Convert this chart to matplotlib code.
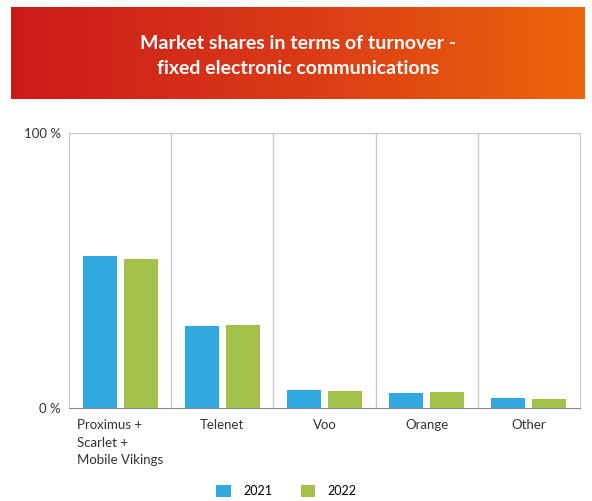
import matplotlib.pyplot as plt
import numpy as np
from matplotlib.colors import LinearSegmentedColormap

# données
categories = ["Proximus +\nScarlet +\nMobile Vikings", "Telenet", "Voo", "Orange", "Other"]
years = ["2021", "2022"]
share_2021 = [55.3, 29.8, 6.4, 5.3, 3.5]
share_2022 = [54.2, 30.3, 6.3, 5.9, 3.3]
colors = ["#31A8E0", "#A3C04A"]
title = "Market shares in terms of turnover -\nfixed electronic communications"

plt.rcParams["font.family"] = ["Lato", "DejaVu Sans"]

fig = plt.figure(figsize=(5.92, 5.01), dpi=100)
W, H = 592, 501

# bandeau titre en dégradé
ax_t = fig.add_axes([11 / W, 1 - 99 / H, 574 / W, 92 / H])
grad = np.linspace(0, 1, 256).reshape(1, -1)
cmap = LinearSegmentedColormap.from_list("banner", ["#CB1A1B", "#DA3A17", "#EC650A"])
ax_t.imshow(grad, aspect="auto", cmap=cmap, extent=[0, 1, 0, 1])
ax_t.set_xlim(0, 1)
ax_t.set_ylim(0, 1)
ax_t.axis("off")
ax_t.text(0.5, 0.47, title, ha="center", va="center", color="white",
          fontsize=14, fontweight="bold", linespacing=1.55)

# graphique
ax = fig.add_axes([69 / W, 1 - 408 / H, 511 / W, 275 / H])
x = np.arange(len(categories))
w = 0.333
ax.bar(x - 0.2, share_2021, w, color=colors[0], label=years[0], zorder=3)
ax.bar(x + 0.2, share_2022, w, color=colors[1], label=years[1], zorder=3)

ax.set_xlim(-0.5, len(categories) - 0.5)
ax.set_ylim(0, 100)
ax.set_yticks([0, 100])
ax.set_yticklabels(["0 %", "100 %"], fontsize=9.5, color="#333333")
ax.set_xticks(x)
ax.set_xticklabels(categories, fontsize=9.5, color="#333333", va="top",
                   multialignment="left", linespacing=1.55)
ax.tick_params(axis="both", length=0, pad=6)
ax.tick_params(axis="x", pad=8)

for b in np.arange(0.5, len(categories) - 0.5, 1):
    ax.axvline(b, color="#C8C8C8", lw=1, zorder=1)
ax.axhline(100, color="#C8C8C8", lw=1, zorder=1)

ax.spines["top"].set_visible(False)
ax.spines["left"].set_color("#C8C8C8")
ax.spines["right"].set_color("#C8C8C8")
ax.spines["bottom"].set_color("#888888")

fig.legend(loc="center", bbox_to_anchor=(0.484, 1 - 491 / H), ncol=2, frameon=False,
           fontsize=9, handlelength=1.15, handleheight=1.15, columnspacing=2.3,
           handletextpad=1.0)

fig.savefig("out.png", dpi=100)
